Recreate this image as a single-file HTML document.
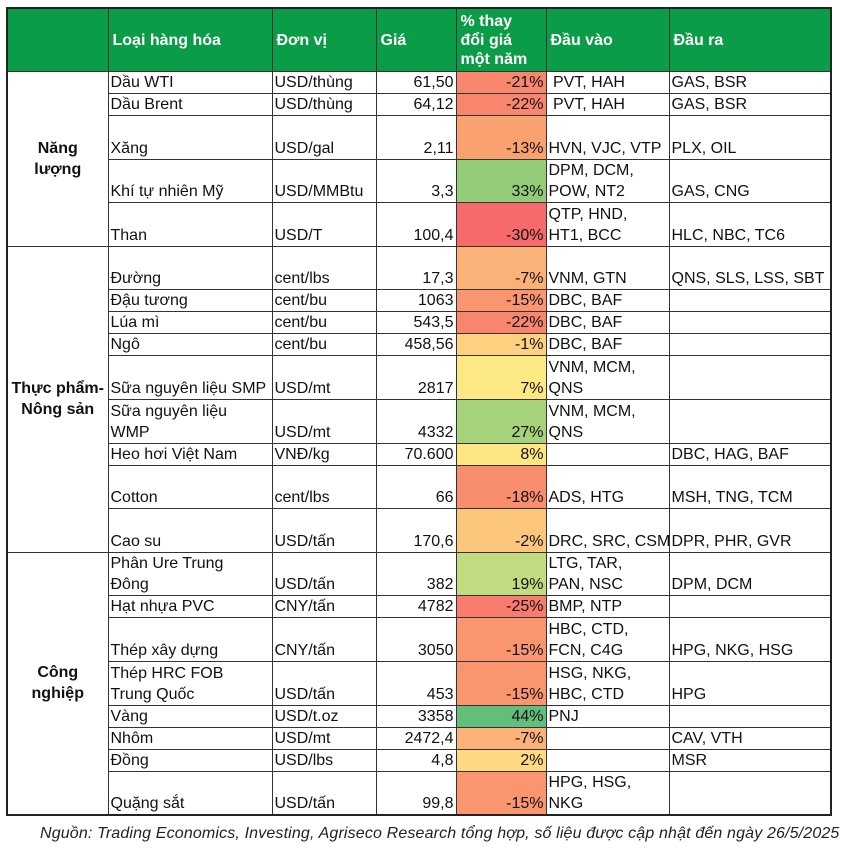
<!DOCTYPE html>
<html><head><meta charset="utf-8">
<style>
body{margin:0;background:#fff;width:858px;height:856px;overflow:hidden;font-family:"Liberation Sans","DejaVu Sans",sans-serif;}
table{position:absolute;left:6px;top:7px;width:824px;border-collapse:collapse;table-layout:fixed;border:2px solid #222;}
td{border:1px solid #333;padding:0 2px;font-size:16px;line-height:21px;vertical-align:bottom;white-space:nowrap;overflow:hidden;color:#111;}
tr.s td{height:20.8px}
tr.d td{height:42.6px}
thead td{background:#0a9c46;color:#fff;font-weight:bold;vertical-align:middle;height:62px;line-height:19px;padding-left:4px;}
td.cat{font-weight:bold;text-align:center;vertical-align:middle;line-height:21px;}
td.r{text-align:right}
.foot{position:absolute;left:40px;top:825px;font-style:italic;font-size:16px;letter-spacing:0.15px;color:#222;white-space:nowrap;}
</style></head><body>
<table>
<colgroup><col style="width:101px"><col style="width:164px"><col style="width:104px"><col style="width:80px"><col style="width:90px"><col style="width:123px"><col style="width:162px"></colgroup>
<thead><tr><td></td><td>Loại hàng hóa</td><td>Đơn vị</td><td>Giá</td><td>% thay<br>đổi giá<br>một năm</td><td>Đầu vào</td><td>Đầu ra</td></tr></thead>
<tbody>
<tr class="s"><td class="cat" rowspan="5">Năng<br>lượng</td><td>Dầu WTI</td><td>USD/thùng</td><td class="r">61,50</td><td class="r" style="background:#f8876d">-21%</td><td>&nbsp;PVT, HAH</td><td>GAS, BSR</td></tr>
<tr class="s"><td>Dầu Brent</td><td>USD/thùng</td><td class="r">64,12</td><td class="r" style="background:#f8856d">-22%</td><td>&nbsp;PVT, HAH</td><td>GAS, BSR</td></tr>
<tr class="d"><td>Xăng</td><td>USD/gal</td><td class="r">2,11</td><td class="r" style="background:#f9a16f">-13%</td><td>HVN, VJC, VTP</td><td>PLX, OIL</td></tr>
<tr class="d"><td>Khí tự nhiên Mỹ</td><td>USD/MMBtu</td><td class="r">3,3</td><td class="r" style="background:#93cb78">33%</td><td>DPM, DCM,<br>POW, NT2</td><td>GAS, CNG</td></tr>
<tr class="d"><td>Than</td><td>USD/T</td><td class="r">100,4</td><td class="r" style="background:#f8696b">-30%</td><td>QTP, HND,<br>HT1, BCC</td><td>HLC, NBC, TC6</td></tr>
<tr class="d"><td class="cat" rowspan="9">Thực phẩm-<br>Nông sản</td><td>Đường</td><td>cent/lbs</td><td class="r">17,3</td><td class="r" style="background:#fbb279">-7%</td><td>VNM, GTN</td><td>QNS, SLS, LSS, SBT</td></tr>
<tr class="s"><td>Đậu tương</td><td>cent/bu</td><td class="r">1063</td><td class="r" style="background:#f99670">-15%</td><td>DBC, BAF</td><td></td></tr>
<tr class="s"><td>Lúa mì</td><td>cent/bu</td><td class="r">543,5</td><td class="r" style="background:#f8856d">-22%</td><td>DBC, BAF</td><td></td></tr>
<tr class="s"><td>Ngô</td><td>cent/bu</td><td class="r">458,56</td><td class="r" style="background:#fdd17f">-1%</td><td>DBC, BAF</td><td></td></tr>
<tr class="d"><td>Sữa nguyên liệu SMP</td><td>USD/mt</td><td class="r">2817</td><td class="r" style="background:#fde983">7%</td><td>VNM, MCM,<br>QNS</td><td></td></tr>
<tr class="d"><td>Sữa nguyên liệu<br>WMP</td><td>USD/mt</td><td class="r">4332</td><td class="r" style="background:#a6d27b">27%</td><td>VNM, MCM,<br>QNS</td><td></td></tr>
<tr class="s"><td>Heo hơi Việt Nam</td><td>VNĐ/kg</td><td class="r">70.600</td><td class="r" style="background:#fee783">8%</td><td></td><td>DBC, HAG, BAF</td></tr>
<tr class="d"><td>Cotton</td><td>cent/lbs</td><td class="r">66</td><td class="r" style="background:#f98e6f">-18%</td><td>ADS, HTG</td><td>MSH, TNG, TCM</td></tr>
<tr class="d"><td>Cao su</td><td>USD/tấn</td><td class="r">170,6</td><td class="r" style="background:#fcc67c">-2%</td><td>DRC, SRC, CSM</td><td>DPR, PHR, GVR</td></tr>
<tr class="d"><td class="cat" rowspan="8">Công<br>nghiệp</td><td>Phân Ure Trung<br>Đông</td><td>USD/tấn</td><td class="r">382</td><td class="r" style="background:#c1db80">19%</td><td>LTG, TAR,<br>PAN, NSC</td><td>DPM, DCM</td></tr>
<tr class="s"><td>Hạt nhựa PVC</td><td>CNY/tấn</td><td class="r">4782</td><td class="r" style="background:#f87b6d">-25%</td><td>BMP, NTP</td><td></td></tr>
<tr class="d"><td>Thép xây dựng</td><td>CNY/tấn</td><td class="r">3050</td><td class="r" style="background:#f99670">-15%</td><td>HBC, CTD,<br>FCN, C4G</td><td>HPG, NKG, HSG</td></tr>
<tr class="d"><td>Thép HRC FOB<br>Trung Quốc</td><td>USD/tấn</td><td class="r">453</td><td class="r" style="background:#f99670">-15%</td><td>HSG, NKG,<br>HBC, CTD</td><td>HPG</td></tr>
<tr class="s"><td>Vàng</td><td>USD/t.oz</td><td class="r">3358</td><td class="r" style="background:#63be7b">44%</td><td>PNJ</td><td></td></tr>
<tr class="s"><td>Nhôm</td><td>USD/mt</td><td class="r">2472,4</td><td class="r" style="background:#fbb279">-7%</td><td></td><td>CAV, VTH</td></tr>
<tr class="s"><td>Đồng</td><td>USD/lbs</td><td class="r">4,8</td><td class="r" style="background:#fed981">2%</td><td></td><td>MSR</td></tr>
<tr class="d"><td>Quặng sắt</td><td>USD/tấn</td><td class="r">99,8</td><td class="r" style="background:#f99670">-15%</td><td>HPG, HSG,<br>NKG</td><td></td></tr>
</tbody></table>
<div class="foot">Nguồn: Trading Economics, Investing, Agriseco Research tổng hợp, số liệu được cập nhật đến ngày 26/5/2025</div>
</body></html>
